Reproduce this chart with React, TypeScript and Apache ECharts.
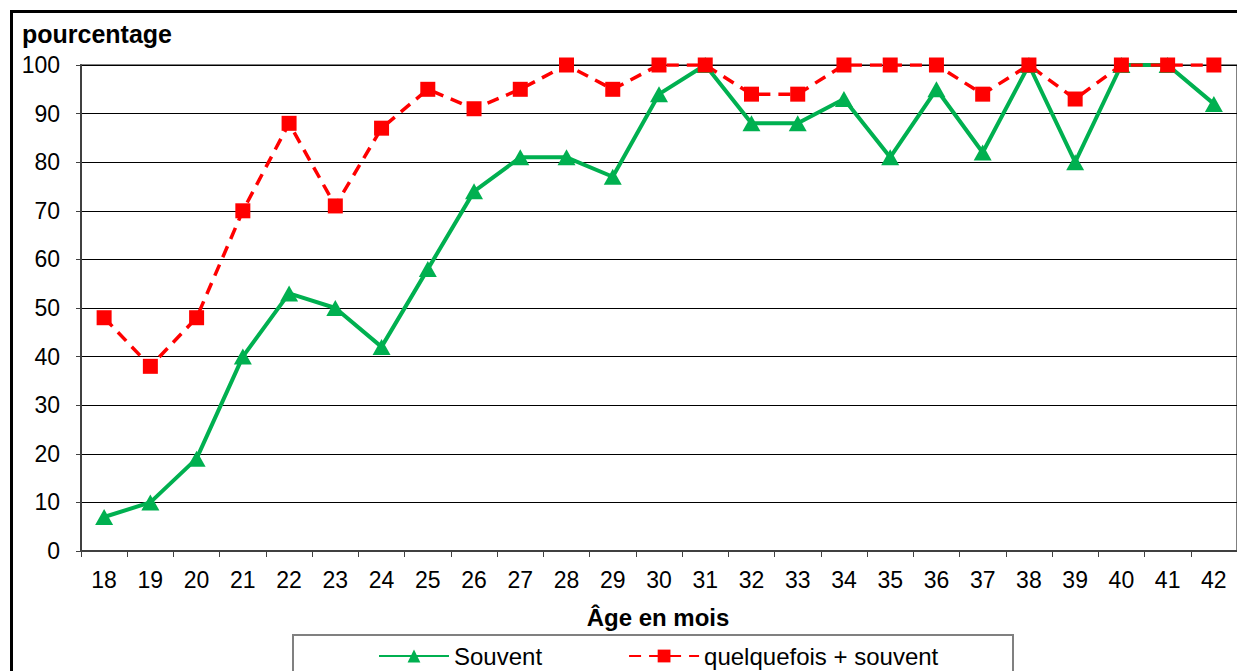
import React, { useEffect, useRef } from "react";
import * as echarts from "echarts";

const ages = ["18","19","20","21","22","23","24","25","26","27","28","29","30","31","32","33","34","35","36","37","38","39","40","41","42"];
const souvent = [7,10,19,40,53,50,42,58,74,81,81,77,94,100,88,88,93,81,95,82,100,80,100,100,92];
const quelquefois = [48,38,48,70,88,71,87,95,91,95,100,95,100,100,94,94,100,100,100,94,100,93,100,100,100];
const yTitle = "pourcentage";
const xTitle = "Âge en mois";
const seriesNames = ["Souvent", "quelquefois + souvent"];

const FONT = "Arial, 'Liberation Sans', sans-serif";

export default function App() {
  const ref = useRef<HTMLDivElement>(null);
  useEffect(() => {
    if (!ref.current) return;
    const chart = echarts.init(ref.current, null, { renderer: "svg" });
    chart.setOption({
      animation: false,
      backgroundColor: "#ffffff",
      textStyle: { fontFamily: FONT },
      grid: {
        left: 81, top: 65, right: -1, bottom: 120,
        show: true, borderColor: "#808080", borderWidth: 2, backgroundColor: "transparent",
      },
      graphic: [
        {
          type: "rect", z: 100,
          shape: { x: 11.5, y: 11.5, width: 1300, height: 700 },
          style: { fill: "none", stroke: "#000", lineWidth: 3 },
        },
        {
          type: "text", x: 22, y: 34,
          style: { text: yTitle, font: `bold 25px ${FONT}`, fill: "#000", verticalAlign: "middle" },
        },
        {
          type: "text", x: 658, y: 617,
          style: { text: xTitle, font: `bold 24px ${FONT}`, fill: "#000", align: "center", verticalAlign: "middle" },
        },
        {
          type: "rect", z: 100,
          shape: { x: 293, y: 635, width: 720, height: 60 },
          style: { fill: "none", stroke: "#808080", lineWidth: 2 },
        },
      ],
      legend: {
        left: 378, top: 644, padding: 0,
        itemWidth: 70, itemHeight: 16, itemGap: 86,
        textStyle: { fontSize: 24, color: "#000", fontFamily: FONT, lineHeight: 24 },
        data: seriesNames,
      },
      xAxis: {
        type: "category",
        data: ages,
        boundaryGap: true,
        axisLine: { lineStyle: { color: "#404040", width: 2 } },
        axisTick: { show: true, alignWithLabel: false, length: 6, lineStyle: { color: "#404040", width: 1 } },
        axisLabel: { fontSize: 23, color: "#000", margin: 17, fontFamily: FONT },
        splitLine: { show: false },
      },
      yAxis: {
        type: "value",
        min: 0, max: 100, interval: 10,
        axisLine: { show: true, lineStyle: { color: "#404040", width: 2 } },
        axisTick: { show: true, length: 5, lineStyle: { color: "#404040", width: 1 } },
        axisLabel: { fontSize: 23, color: "#000", margin: 21, fontFamily: FONT },
        splitLine: { show: true, lineStyle: { color: "#000", width: 1 } },
      },
      series: [
        {
          name: seriesNames[0],
          type: "line",
          data: souvent,
          symbol: "triangle",
          symbolSize: [18, 16],
          lineStyle: { color: "#00B050", width: 4 },
          itemStyle: { color: "#00B050" },
        },
        {
          name: seriesNames[1],
          type: "line",
          data: quelquefois,
          symbol: "rect",
          symbolSize: 15,
          lineStyle: { color: "#FF0000", width: 3.5, type: [12, 8] },
          itemStyle: { color: "#FF0000" },
        },
      ],
    });
    return () => chart.dispose();
  }, []);
  return (
    <div
      ref={ref}
      style={{ position: "fixed", left: 0, top: 0, width: 1237, height: 671, background: "#fff" }}
    />
  );
}
